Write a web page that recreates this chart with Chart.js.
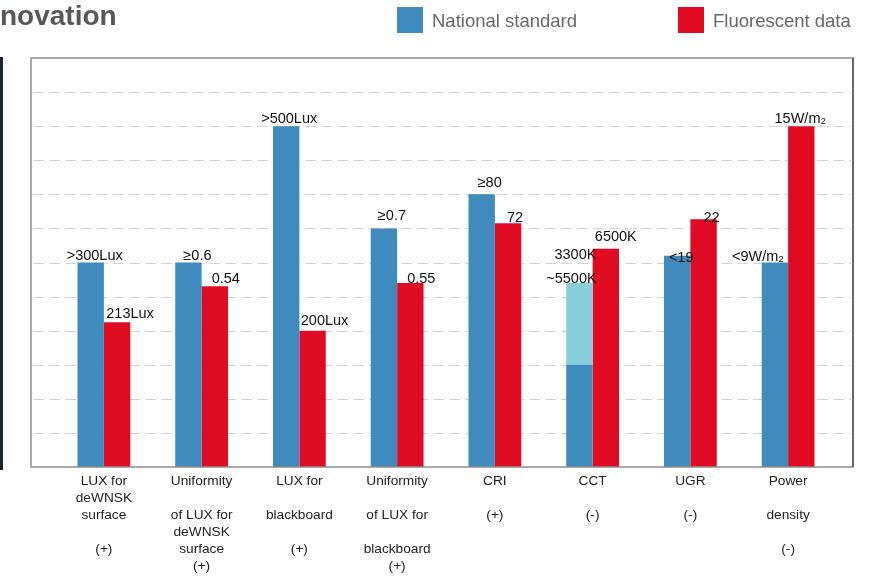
<!DOCTYPE html>
<html>
<head>
<meta charset="utf-8">
<script src="https://cdn.jsdelivr.net/npm/chart.js@4/dist/chart.umd.min.js"></script>
<style>
  body { margin: 0; background: #fff; }
  #wrap { position: relative; width: 871px; height: 581px; }
</style>
</head>
<body>
<div id="wrap"><canvas id="chart"></canvas></div>
<script>
// categories (multi-line tick labels, blank lines keep the original spacing)
const categories = [
  ["LUX for", "deWNSK", "surface", "", "(+)"],
  ["Uniformity", "", "of LUX for", "deWNSK", "surface", "(+)"],
  ["LUX for", "", "blackboard", "", "(+)"],
  ["Uniformity", "", "of LUX for", "", "blackboard", "(+)"],
  ["CRI", "", "(+)"],
  ["CCT", "", "(-)"],
  ["UGR", "", "(-)"],
  ["Power", "", "density", "", "(-)"]
];

// bar heights in chart units (0-12 grid)
const nationalValues = [6, 6, 10, 7, 8, 3, 6.2, 6];
const cctRangeValues = [null, null, null, null, null, 2.4, null, null];
const fluorescentValues = [4.25, 5.3, 4.0, 5.4, 7.15, 6.4, 7.27, 10];

// value labels written over the bars
const nationalLabels = [">300Lux", "≥0.6", ">500Lux", "≥0.7", "≥80", "3300K", "<19", "<9W/m₂"];
const cctRangeLabels = ["", "", "", "", "", "~5500K", "", ""];
const fluorescentLabels = ["213Lux", "0.54", "200Lux", "0.55", "72", "6500K", "22", "15W/m₂"];

// label nudges [dx, dy] from the bar centre / top
const nationalNudge = [[4, -7], [9, -7], [3, -7], [8, -12], [8, -11], [-4, -28], [4, 2], [-17, -6]];
const cctRangeNudge = [[0, 0], [0, 0], [0, 0], [0, 0], [0, 0], [-8, -4], [0, 0], [0, 0]];
const fluorescentNudge = [[13, -8], [11, -7], [12, -10], [11, -4], [7, -5], [10, -12], [8, -1], [-1, -7]];

const BLUE = "#3f8bbd";
const RED = "#e00b22";
const CYAN = "#88cfdd";
const FONT = "Arial, 'Liberation Sans', sans-serif";

// frame, grid, title and legend
const decorPlugin = {
  id: "decor",
  beforeDatasetsDraw(chart) {
    const { ctx, chartArea } = chart;
    const y = chart.scales.y;
    const left = chartArea.left - 24, right = chartArea.right + 16;
    ctx.save();
    ctx.strokeStyle = "#d4d4d4";
    ctx.lineWidth = 1;
    ctx.setLineDash([11, 5]);
    for (let v = 1; v < 12; v++) {
      const py = Math.round(y.getPixelForValue(v)) + 0.5;
      ctx.beginPath();
      ctx.moveTo(left + 2, py);
      ctx.lineTo(right - 2, py);
      ctx.stroke();
    }
    ctx.restore();
  },
  afterDraw(chart) {
    const { ctx, chartArea } = chart;
    const left = chartArea.left - 24, right = chartArea.right + 16;
    ctx.save();
    // frame
    ctx.strokeStyle = "#8e8e8e";
    ctx.lineWidth = 1.5;
    ctx.strokeRect(left, chartArea.top, right - left, chartArea.bottom - chartArea.top);
    ctx.strokeStyle = "#555";
    ctx.beginPath();
    ctx.moveTo(right, chartArea.top);
    ctx.lineTo(right, chartArea.bottom);
    ctx.stroke();
    // dark edge at far left
    ctx.fillStyle = "#1d2230";
    ctx.fillRect(0, 57, 3, 413);
    // title
    ctx.fillStyle = "#5b5560";
    ctx.font = "bold 28px " + FONT;
    ctx.textBaseline = "middle";
    ctx.textAlign = "left";
    ctx.fillText("novation", 0, 17);
    // legend
    const items = [
      { ds: chart.data.datasets[0], x: 397 },
      { ds: chart.data.datasets[2], x: 678 }
    ];
    ctx.font = "18.5px " + FONT;
    items.forEach(it => {
      ctx.fillStyle = it.ds.backgroundColor;
      ctx.fillRect(it.x, 7, 26, 26);
      ctx.fillStyle = "#6b6570";
      ctx.fillText(it.ds.label, it.x + 35, 22);
    });
    ctx.restore();
  }
};

// value labels above bars
const valueLabelPlugin = {
  id: "valueLabels",
  afterDatasetsDraw(chart) {
    const { ctx } = chart;
    ctx.save();
    ctx.font = "14.5px " + FONT;
    ctx.fillStyle = "#111";
    ctx.textAlign = "center";
    ctx.textBaseline = "middle";
    chart.data.datasets.forEach((ds, di) => {
      const meta = chart.getDatasetMeta(di);
      meta.data.forEach((bar, i) => {
        const text = ds.valueLabels[i];
        if (!text) return;
        // top of the whole stack at this category
        let top = bar.y;
        chart.data.datasets.forEach((other, oi) => {
          if (other.stack === ds.stack && other.data[i] != null) {
            top = Math.min(top, chart.getDatasetMeta(oi).data[i].y);
          }
        });
        const [dx, dy] = ds.nudge[i];
        ctx.fillText(text, bar.x + dx, top + dy);
      });
    });
    ctx.restore();
  }
};

new Chart(document.getElementById("chart"), {
  type: "bar",
  data: {
    labels: categories,
    datasets: [
      {
        label: "National standard",
        data: nationalValues,
        backgroundColor: BLUE,
        stack: "std",
        valueLabels: nationalLabels,
        nudge: nationalNudge
      },
      {
        label: "CCT range",
        data: cctRangeValues,
        backgroundColor: CYAN,
        stack: "std",
        valueLabels: cctRangeLabels,
        nudge: cctRangeNudge
      },
      {
        label: "Fluorescent data",
        data: fluorescentValues,
        backgroundColor: RED,
        stack: "fl",
        valueLabels: fluorescentLabels,
        nudge: fluorescentNudge
      }
    ]
  },
  options: {
    responsive: true,
    maintainAspectRatio: false,
    animation: false,
    layout: { padding: { left: 55, right: 34, top: 58, bottom: 0 } },
    datasets: { bar: { categoryPercentage: 0.54, barPercentage: 1 } },
    plugins: {
      legend: { display: false },
      tooltip: { enabled: false }
    },
    scales: {
      x: {
        stacked: true,
        grid: { display: false, drawTicks: false },
        border: { display: false },
        ticks: {
          color: "#222",
          font: { family: FONT, size: 13.7, lineHeight: 1.24 },
          padding: 6,
          autoSkip: false,
          maxRotation: 0,
          minRotation: 0
        },
        afterFit(scale) { scale.height = 114; }
      },
      y: {
        stacked: true,
        display: false,
        min: 0,
        max: 12
      }
    }
  },
  plugins: [decorPlugin, valueLabelPlugin]
});
</script>
</body>
</html>
